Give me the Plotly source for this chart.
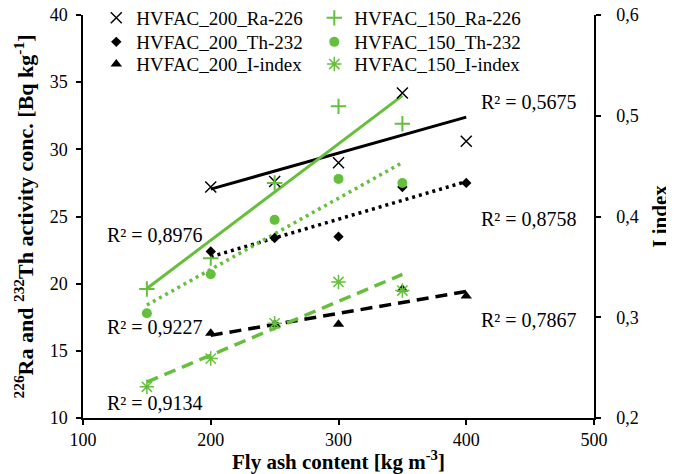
import numpy as np
import plotly.graph_objects as go

# Fly ash content [kg m-3]
x200 = [200, 250, 300, 350, 400]
x150 = [150, 200, 250, 300, 350]

# HVFAC_200 series
ra200 = [27.2, 27.6, 29.0, 34.2, 30.6]
th200 = [22.4, 23.4, 23.5, 27.2, 27.5]
i200 = [0.284, 0.293, 0.293, 0.328, 0.321]

# HVFAC_150 series
ra150 = [19.6, 21.9, 27.5, 33.2, 31.9]
th150 = [17.8, 20.7, 24.75, 27.8, 27.5]
i150 = [0.231, 0.259, 0.294, 0.335, 0.3265]

names = ["HVFAC_200_Ra-226", "HVFAC_150_Ra-226",
         "HVFAC_200_Th-232", "HVFAC_150_Th-232",
         "HVFAC_200_I-index", "HVFAC_150_I-index"]

r2_labels = ["R² = 0,5675", "R² = 0,8758", "R² = 0,7867",
             "R² = 0,8976", "R² = 0,9227", "R² = 0,9134"]

BLACK = "#000000"
GREEN = "#66bf3c"
FONT = "Liberation Serif"


def trend(x, y):
    p = np.polyfit(x, y, 1)
    xs = np.array([min(x), max(x)], dtype=float)
    return xs, np.polyval(p, xs)


fig = go.Figure()

# trendlines
lines = [
    (x200, ra200, BLACK, "solid", 3, "y"),
    (x150, ra150, GREEN, "solid", 3, "y"),
    (x200, th200, BLACK, "3px,4px", 3.5, "y"),
    (x150, th150, GREEN, "3px,4px", 3.5, "y"),
    (x200, i200, BLACK, "12px,7px", 3.5, "y2"),
    (x150, i150, GREEN, "12px,7px", 3.5, "y2"),
]
for x, y, c, d, w, ax in lines:
    xs, ys = trend(x, y)
    fig.add_trace(go.Scatter(x=xs, y=ys, mode="lines", yaxis=ax,
                             line=dict(color=c, width=w, dash=d),
                             showlegend=False, hoverinfo="skip"))

# markers; each legend row is its own legend
markers = [
    (x200, ra200, dict(symbol="x-thin", size=11, color=BLACK, line=dict(color=BLACK, width=1.5)), "y", "legend"),
    (x150, ra150, dict(symbol="cross-thin", size=11, color=GREEN, line=dict(color=GREEN, width=2)), "y", "legend"),
    (x200, th200, dict(symbol="diamond", size=8, color=BLACK), "y", "legend2"),
    (x150, th150, dict(symbol="circle", size=10, color=GREEN), "y", "legend2"),
    (x200, i200, dict(symbol="triangle-up", size=10, color=BLACK), "y2", "legend3"),
    (x150, i150, dict(symbol="asterisk", size=12, color=GREEN, line=dict(color=GREEN, width=1.5)), "y2", "legend3"),
]
for (x, y, m, ax, lg), n in zip(markers, names):
    fig.add_trace(go.Scatter(x=x, y=y, mode="markers", name=n, yaxis=ax, marker=m, legend=lg))

# R² labels
label_pos = [(410, 33.5), (410, 24.8), (410, 17.3), (117, 23.6), (117, 16.8), (117, 11.1)]
for (lx, ly), t in zip(label_pos, r2_labels):
    fig.add_annotation(x=lx, y=ly, xref="x", yref="y", text=t, showarrow=False,
                       xanchor="left", yanchor="middle",
                       font=dict(family=FONT, size=20, color=BLACK))

axis_common = dict(showline=True, linecolor=BLACK, linewidth=1.5, ticks="outside",
                   ticklen=5, tickwidth=1.5, tickcolor=BLACK, showgrid=False,
                   zeroline=False, automargin=False, ticklabeloverflow="allow",
                   tickfont=dict(family=FONT, size=18, color=BLACK))

legend_common = dict(orientation="h", x=0.026, xanchor="left", yanchor="middle",
                     entrywidth=173, entrywidthmode="pixels", bgcolor="rgba(0,0,0,0)",
                     font=dict(family=FONT, size=19, color=BLACK), itemwidth=30,
                     tracegroupgap=0)

fig.update_layout(
    width=666, height=466,
    margin=dict(l=75, r=80, t=7, b=56, autoexpand=False),
    paper_bgcolor="white", plot_bgcolor="white",
    separators=", ",
    font=dict(family=FONT, size=18, color=BLACK),
    xaxis=dict(range=[100, 500], dtick=100, tick0=100,
               title=dict(text="<b>Fly ash content [kg m<sup>-3</sup>]</b>",
                          font=dict(family=FONT, size=21), standoff=0),
               **axis_common),
    yaxis=dict(range=[10, 40], dtick=5, tick0=10, ticklabelstandoff=5,
               title=dict(text="<b><sup>226</sup>Ra and <sup>232</sup>Th activity conc. [Bq kg<sup>-1</sup>]</b>",
                          font=dict(family=FONT, size=22), standoff=10),
               **axis_common),
    yaxis2=dict(range=[0.2, 0.6], dtick=0.1, tick0=0.2, tickformat=".1f",
                overlaying="y", side="right", anchor="x",
                ticklabelstandoff=12,
                title=dict(text="<b>I index</b>", font=dict(family=FONT, size=21), standoff=14),
                **axis_common),
    legend=dict(y=0.9926, **legend_common),
    legend2=dict(y=0.933, **legend_common),
    legend3=dict(y=0.878, **legend_common),
)

fig.write_html("out.html")
